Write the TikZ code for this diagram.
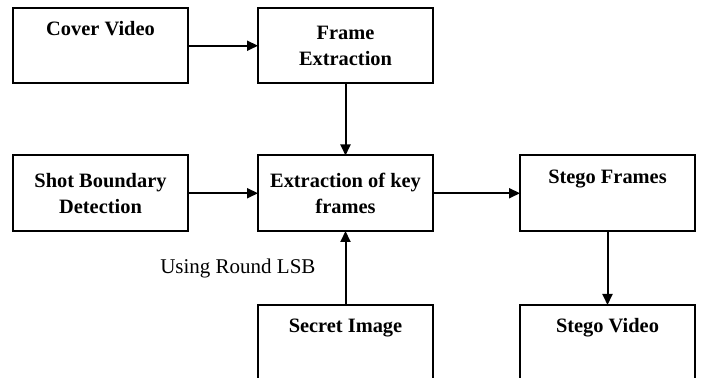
\documentclass[tikz,border=0pt]{standalone}
\usepackage{fontspec}
\setmainfont{Liberation Serif}
\usepackage{tikz}
\usetikzlibrary{arrows.meta,positioning}
\tikzset{
  box/.style   = {draw, line width=1pt, outer sep=0pt, align=center,
                  minimum width=87.5pt, minimum height=37.75pt,
                  font=\fontsize{10.2}{13}\selectfont\bfseries},
  flow/.style  = {-{Triangle[length=5.5pt,width=5pt]}, line width=1pt},
  note/.style  = {font=\fontsize{10.5}{13}\selectfont, inner sep=0pt},
}

\begin{document}
\begin{tikzpicture}[x=0.5pt, y=-0.5pt]
      \useasboundingbox (0,0) rectangle (702,378);
      \clip (0,0) rectangle (702,378);
      %top row
      \node[box, anchor=north west] (cover) at (13,8) {Cover Video\\\strut};
      \node[box, right=35pt of cover] (frame) {Frame\\Extraction};
      %middle row
      \node[box, below=36pt of frame] (keyf) {Extraction of key\\frames};
      \node[box, left=35pt of keyf] (shot) {Shot Boundary\\Detection};
      \node[box, right=43.5pt of keyf] (stegof) {Stego Frames\\\strut};
      %bottom row
      \node[box, below=37pt of keyf] (secret) {Secret Image\\\strut};
      \node[box, below=37pt of stegof] (stegov) {Stego Video\\\strut};

      \draw[flow] (cover) -- (frame);
      \draw[flow] (frame) -- (keyf);
      \draw[flow] (shot) -- (keyf);
      \draw[flow] (keyf) -- (stegof);
      \draw[flow] (secret) -- node[note, midway, left=14.5pt] (lsb) {Using Round LSB} (keyf);
      \draw[flow] (stegof) -- (stegov);
\end{tikzpicture}
\end{document}
